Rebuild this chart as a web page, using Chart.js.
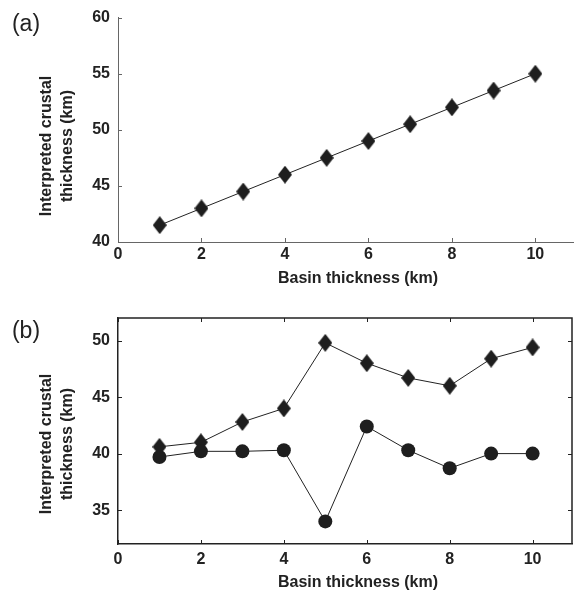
<!DOCTYPE html>
<html>
<head>
<meta charset="utf-8">
<script src="https://cdn.jsdelivr.net/npm/chart.js@4.4.0/dist/chart.umd.min.js"></script>
<style>
  body { margin: 0; background: #fff; width: 574px; height: 597px; overflow: hidden; position: relative; }
  canvas { position: absolute; left: 0; }
</style>
</head>
<body>
<canvas id="chartA" width="579" height="292" style="top:0px"></canvas>
<canvas id="chartB" width="579" height="305" style="top:292px"></canvas>
<script>
// Basin thickness (km)
const basin = [1, 2, 3, 4, 5, 6, 7, 8, 9, 10];
// panel (a)
const crustA = [41.5, 43, 44.5, 46, 47.5, 49, 50.5, 52, 53.5, 55];
// panel (b)
const crustDiamond = [40.6, 41.0, 42.8, 44.0, 49.8, 48.0, 46.7, 46.0, 48.4, 49.4];
const crustCircle = [39.7, 40.2, 40.2, 40.3, 34.0, 42.4, 40.3, 38.7, 40.0, 40.0];

const xTicks = [0, 2, 4, 6, 8, 10];
const yTicksA = [40, 45, 50, 55, 60];
const yTicksB = [35, 40, 45, 50];

const FONT = "'Liberation Sans', Arial, sans-serif";
const INK = '#1e1e1e';

// diamond marker, a bit taller than wide like the original
function makeDiamond(w, h) {
    const c = document.createElement('canvas');
    c.width = w; c.height = h;
    const g = c.getContext('2d');
    g.fillStyle = INK;
    g.beginPath();
    g.moveTo(w / 2, 0);
    g.lineTo(w, h / 2);
    g.lineTo(w / 2, h);
    g.lineTo(0, h / 2);
    g.closePath();
    g.fill();
    return c;
}
const diamond = makeDiamond(14, 18);

function pts(xs, ys) {
    return xs.map((x, i) => ({ x: x, y: ys[i] }));
}

// inside tick marks, frame and all the text labels
function decorPlugin(opts) {
    return {
        id: 'decor',
        afterDraw(chart) {
            const ctx = chart.ctx;
            const a = chart.chartArea;
            const xs = chart.scales.x, ys = chart.scales.y;
            const right = Math.min(a.right, 573);
            ctx.save();
            ctx.strokeStyle = opts.frameColor;
            ctx.lineWidth = 1;
            ctx.beginPath();
            xs.ticks.forEach(t => {
                const px = Math.round(xs.getPixelForValue(t.value)) + 0.5;
                ctx.moveTo(px, a.bottom);
                ctx.lineTo(px, a.bottom - 4);
                if (opts.box) {
                    ctx.moveTo(px, a.top);
                    ctx.lineTo(px, a.top + 4);
                }
            });
            ys.ticks.forEach(t => {
                const py = Math.round(ys.getPixelForValue(t.value)) + 0.5;
                ctx.moveTo(a.left, py);
                ctx.lineTo(a.left + 4, py);
                if (opts.box) {
                    ctx.moveTo(right, py);
                    ctx.lineTo(right - 4, py);
                }
            });
            ctx.stroke();
            if (opts.box) {
                ctx.lineWidth = 1.5;
                ctx.beginPath();
                ctx.moveTo(a.left, a.top);
                ctx.lineTo(right, a.top);
                ctx.lineTo(right, a.bottom);
                ctx.stroke();
            }
            // text
            ctx.fillStyle = '#222';
            ctx.textAlign = 'center';
            ctx.textBaseline = 'middle';
            ctx.font = "23px " + FONT;
            ctx.fillText(opts.panel, 26, opts.panelY);
            ctx.font = "bold 16px " + FONT;
            ctx.fillText('Basin thickness (km)', 358, opts.xTitleY);
            ctx.translate(0, opts.yTitleY);
            ctx.rotate(-Math.PI / 2);
            ctx.fillText('Interpreted crustal', 0, 47);
            ctx.fillText('thickness (km)', 0, 68);
            ctx.restore();
        }
    };
}

function makeChart(id, datasets, yMin, yMax, yTicks, xHeight, topPad, tickPad, frameColor, frameWidth, plug) {
    return new Chart(document.getElementById(id), {
        type: 'line',
        data: { datasets: datasets },
        options: {
            responsive: false,
            animation: false,
            events: [],
            layout: { padding: { top: topPad, left: 0, right: 0, bottom: 0 } },
            plugins: { legend: { display: false }, tooltip: { enabled: false } },
            scales: {
                x: {
                    type: 'linear',
                    min: 0,
                    max: 10.95,
                    afterBuildTicks: s => { s.ticks = xTicks.map(v => ({ value: v })); },
                    afterFit: s => { s.height = xHeight; },
                    grid: { display: true, drawOnChartArea: false, drawTicks: false },
                    border: { display: true, color: frameColor, width: frameWidth },
                    ticks: { color: '#222', padding: tickPad, maxRotation: 0, font: { family: FONT, size: 16, weight: 'bold' } }
                },
                y: {
                    type: 'linear',
                    min: yMin,
                    max: yMax,
                    afterBuildTicks: s => { s.ticks = yTicks.map(v => ({ value: v })); },
                    afterFit: s => { s.width = 118; },
                    grid: { display: true, drawOnChartArea: false, drawTicks: false },
                    border: { display: true, color: frameColor, width: frameWidth },
                    ticks: { color: '#222', padding: 8, font: { family: FONT, size: 16, weight: 'bold' } }
                }
            }
        },
        plugins: [plug]
    });
}

const lineStyle = { borderColor: '#222', borderWidth: 1, showLine: true, clip: false, pointBackgroundColor: INK, pointBorderColor: INK, pointBorderWidth: 0 };

makeChart('chartA', [
    Object.assign({ data: pts(basin, crustA), pointStyle: diamond }, lineStyle)
], 40, 60, yTicksA, 50, 15, 3, '#666', 1, decorPlugin({ panel: '(a)', panelY: 25, xTitleY: 279, yTitleY: 146, box: false, frameColor: '#666' }));

makeChart('chartB', [
    Object.assign({ data: pts(basin, crustCircle), pointStyle: 'circle', pointRadius: 7 }, lineStyle),
    Object.assign({ data: pts(basin, crustDiamond), pointStyle: diamond }, lineStyle)
], 32, 52, yTicksB, 53, 26, 6, '#222', 1.5, decorPlugin({ panel: '(b)', panelY: 40, xTitleY: 291, yTitleY: 152, box: true, frameColor: '#222' }));
</script>
</body>
</html>
